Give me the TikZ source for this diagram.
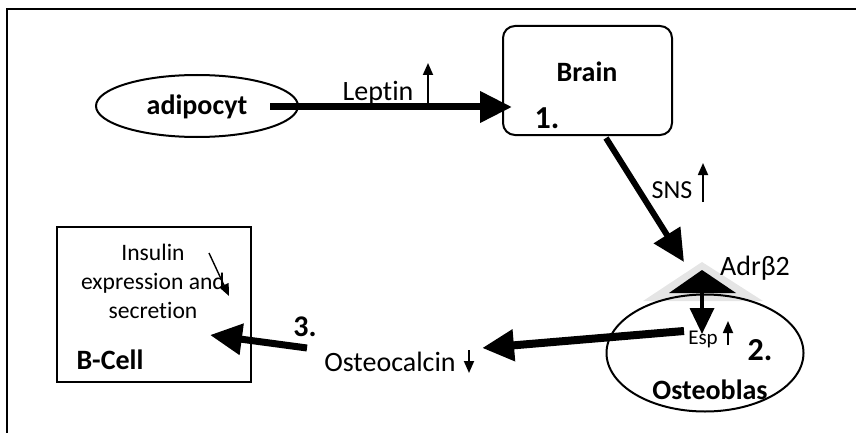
\documentclass[tikz,border=0pt]{standalone}
\usepackage{fontspec}
\setmainfont{Carlito}[Ligatures={NoCommon,NoRare,NoDiscretionary}]
\usetikzlibrary{arrows.meta,shapes.geometric}
\tikzstyle{cell} = [draw,line width=1pt,inner sep=0]
\tikzstyle{fat} = [draw,line width=3.5pt,-{Triangle[length=16pt,width=15pt]}]
\tikzstyle{tick} = [draw,line width=0.9pt,-{Triangle[length=6pt,width=5pt]}]
\tikzstyle{lbl} = [inner sep=0,font=\fontsize{14}{17}\selectfont]
\tikzstyle{bold} = [inner sep=0,font=\bfseries\fontsize{14}{17}\selectfont]
\tikzstyle{num} = [inner sep=0,font=\bfseries\fontsize{16}{19}\selectfont]

\begin{document}
\begin{tikzpicture}[x=0.5pt,y=-0.5pt]
    \useasboundingbox (0,0) rectangle (856,433);
    \draw[line width=1.2pt] (7,433) -- (7,9) -- (856,9);

    % cells
    \node[cell,ellipse,minimum width=101pt,minimum height=31pt] (adipocyt) at (197,106) {};
    \node[cell,rounded corners=6pt,minimum width=84.5pt,minimum height=54.5pt] (brain) at (587.5,80.5) {};
    \node[cell,line width=1.2pt,minimum width=97pt,minimum height=77.5pt] (bcell) at (154,304.5) {};
    \fill[gray!20] (702,262) -- (643,301) -- (763,301) -- cycle;
    \node[cell,ellipse,minimum width=98.5pt,minimum height=58.5pt] (osteo) at (705,353) {};

    \node[bold] (adiptxt) at (197,107) {adipocyt};
    \node[bold] (braintxt) at (587,72) {Brain};
    \node[num] (one) at (547,118) {1.};
    \node[bold] (osteotxt) at (710,390) {Osteoblas};
    \node[num] (two) at (760,350) {2.};
    \node[bold] (bceltxt) at (110,360) {B-Cell};
    \node[inner sep=0,align=center,font=\fontsize{11.8}{14.5}\selectfont] (insulin) at (153,281) {Insulin\\expression and\\secretion};

    % labels
    \node[lbl] (leptin) at (378,93) {Leptin};
    \node[lbl,font=\fontsize{13}{16}\selectfont] (sns) at (672,190) {SNS};
    \node[lbl] (adrb) at (755,268) {Adrβ2};
    \node[inner sep=0,font=\fontsize{10.5}{13}\selectfont] (esp) at (703,339) {Esp};
    \node[lbl] (ocal) at (390,362) {Osteocalcin};
    \node[num,font=\bfseries\fontsize{15}{18}\selectfont] (three) at (305,327) {3.};

    % receptor
    \fill (702,270) -- (669,293) -- (736,293) -- cycle;
    \coordinate (adr) at (702,292);
    \coordinate (espTop) at (702,334);
    \draw[line width=1.8pt,-{Triangle[length=13pt,width=12pt]}] (adr) -- (espTop);

    % main arrows
    \coordinate (lepA) at (270,107);
    \coordinate (lepB) at (512,107);
    \coordinate (snsA) at (606,138);
    \coordinate (snsB) at (684,262);
    \coordinate (ocA) at (684,331);
    \coordinate (ocB) at (482,348);
    \coordinate (bcA) at (307,348);
    \coordinate (bcB) at (210,335);
    \draw[fat] (lepA) -- (lepB);
    \draw[fat,line width=3pt] (snsA) -- (snsB);
    \draw[fat,line width=4pt] (ocA) -- (ocB);
    \draw[fat,line width=3.5pt] (bcA) -- (bcB);

    % up and down ticks
    \coordinate (lepU) at (428,104);
    \coordinate (lepV) at (428,63);
    \coordinate (snsU) at (703,202);
    \coordinate (snsV) at (703,163);
    \coordinate (espU) at (728,345);
    \coordinate (espV) at (728,321);
    \coordinate (ocU) at (469,350);
    \coordinate (ocV) at (469,373);
    \coordinate (insU) at (209,253);
    \coordinate (insV) at (229,296);
    \draw[tick] (lepU) -- (lepV);
    \draw[tick] (snsU) -- (snsV);
    \draw[tick] (espU) -- (espV);
    \draw[tick] (ocU) -- (ocV);
    \draw[tick,line width=0.7pt] (insU) -- (insV);
\end{tikzpicture}
\end{document}
